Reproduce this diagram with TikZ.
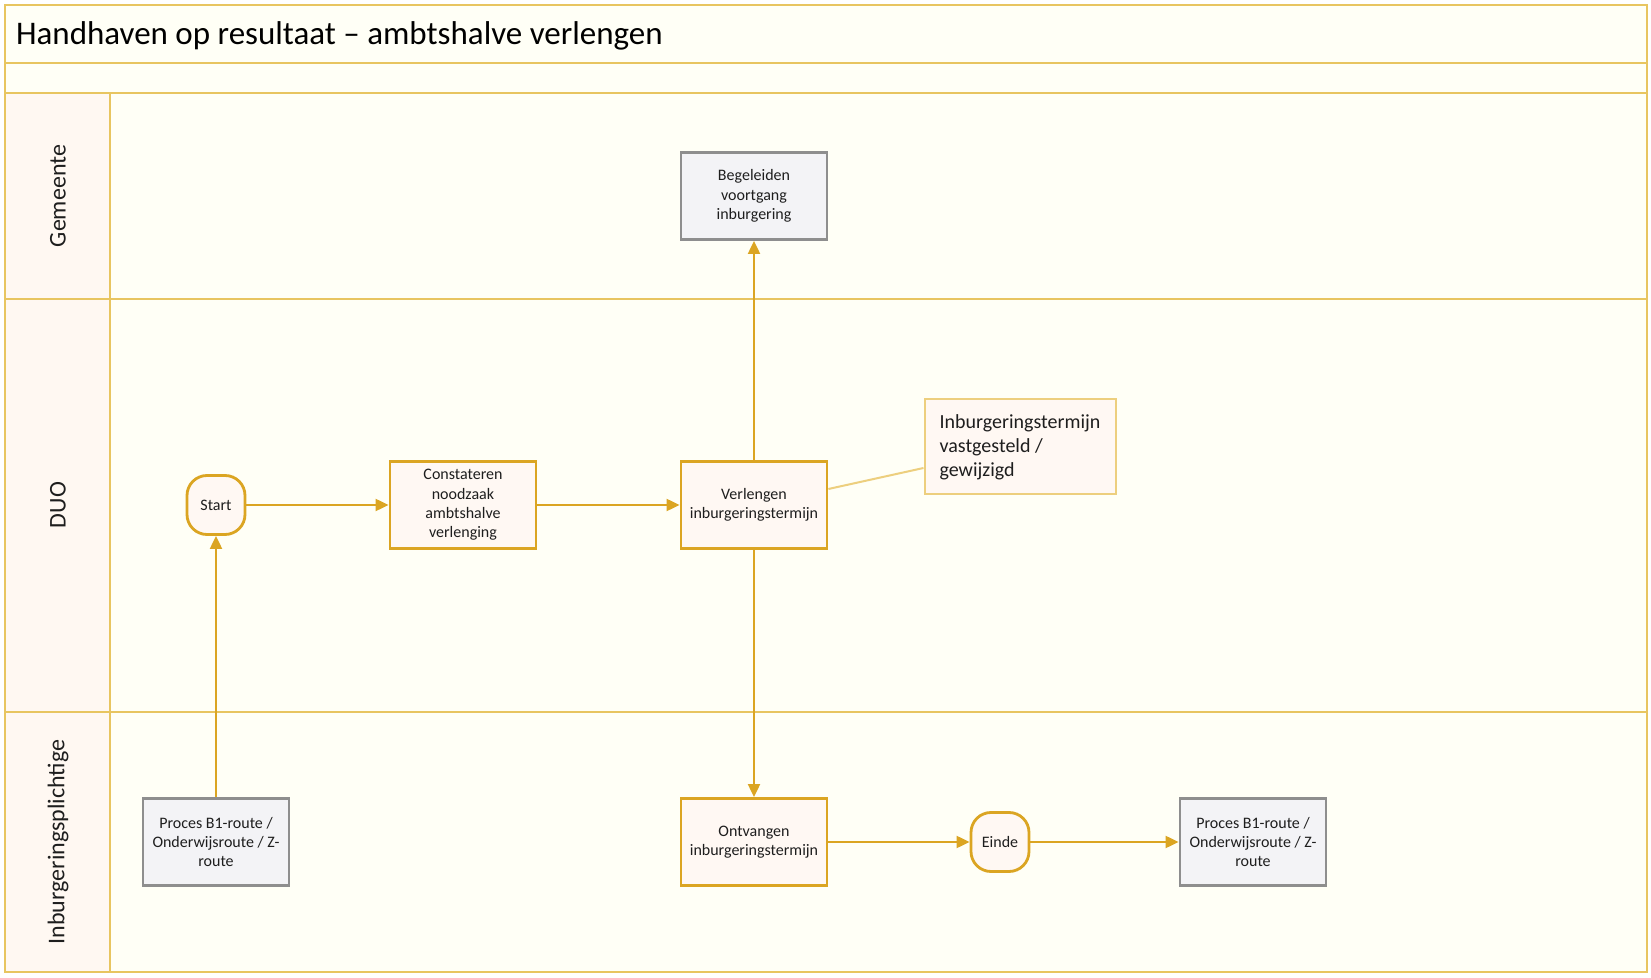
\documentclass[tikz,border=0pt]{standalone}
\usepackage{fontspec}
\setmainfont{Carlito}
\usetikzlibrary{arrows.meta}
\definecolor{lanegold}{HTML}{E8C560}
\definecolor{boxgold}{HTML}{DBA522}
\definecolor{notegold}{HTML}{EDCF7E}
\definecolor{bgcream}{HTML}{FFFFF6}
\definecolor{lanefill}{HTML}{FFF8F2}
\definecolor{boxfill}{HTML}{FFF8F3}
\definecolor{extgrey}{HTML}{8E8E8E}
\definecolor{extfill}{HTML}{F3F3F6}
\definecolor{tekst}{HTML}{1E1E1E}

\begin{document}
\begin{tikzpicture}[x=0.5pt,y=-0.5pt,
  lane/.style={draw=lanegold,line width=1.2pt},
  taak/.style={draw=boxgold,fill=boxfill,line width=1.4pt,minimum width=73pt,minimum height=43.5pt,
    align=center,inner sep=1pt,text=tekst,font=\fontsize{8}{9.7}\selectfont},
  extern/.style={taak,draw=extgrey,fill=extfill},
  grens/.style={taak,rounded corners=10pt,minimum width=29pt,minimum height=29.5pt},
  notitie/.style={draw=notegold,fill=boxfill,line width=1pt,minimum width=95.5pt,minimum height=47.5pt,
    align=left,inner sep=4pt,text=tekst,font=\fontsize{10}{12}\selectfont},
  laan/.style={rotate=90,text=tekst,font=\fontsize{12}{14}\selectfont},
  stroom/.style={draw=boxgold,line width=1pt,-{Triangle[length=6.5pt,width=6pt]}}]
\useasboundingbox (0,0) rectangle (1651,978);
\fill[white] (0,0) rectangle (1651,978);
\fill[bgcream] (5,5) rectangle (1647,972);
\fill[lanefill] (5,93) rectangle (110,972);
% swimlanes
\draw[lane] (5,5) rectangle (1647,972);
\draw[lane] (5,63) -- (1647,63);
\draw[lane] (5,93) -- (1647,93);
\draw[lane] (110,93) -- (110,972);
\draw[lane] (5,299) -- (1647,299);
\draw[lane] (5,712) -- (1647,712);
\node[anchor=west,text=black,font=\fontsize{16.5}{19}\selectfont] (titel) at (9,36) {Handhaven op resultaat -- ambtshalve verlengen};
\node[laan] (gemeente) at (58,196) {Gemeente};
\node[laan] (duo) at (58,505) {DUO};
\node[laan] (plichtige) at (58,842) {Inburgeringsplichtige};
% stappen
\node[extern] (begeleiden) at (754,196) {Begeleiden\\voortgang\\inburgering};
\node[grens] (start) at (216,505) {Start};
\node[taak] (constateren) at (463,505) {Constateren\\noodzaak\\ambtshalve\\verlenging};
\node[taak] (verlengen) at (754,505) {Verlengen\\inburgeringstermijn};
\node[notitie] (termijn) at (1020,447) {Inburgeringstermijn\\vastgesteld /\\gewijzigd};
\node[extern] (procesin) at (216,842) {Proces B1-route /\\Onderwijsroute / Z-\\route};
\node[taak] (ontvangen) at (754,842) {Ontvangen\\inburgeringstermijn};
\node[grens] (einde) at (1000,842) {Einde};
\node[extern] (procesuit) at (1253,842) {Proces B1-route /\\Onderwijsroute / Z-\\route};
% stromen
\draw[stroom] (procesin) -- (start);
\draw[stroom] (start) -- (constateren);
\draw[stroom] (constateren) -- (verlengen);
\draw[stroom] (verlengen) -- (begeleiden);
\draw[stroom] (verlengen) -- (ontvangen);
\draw[stroom] (ontvangen) -- (einde);
\draw[stroom] (einde) -- (procesuit);
\draw[draw=notegold,line width=1pt] ([yshift=8pt]verlengen.east) -- ([yshift=-10.5pt]termijn.west);
\end{tikzpicture}
\end{document}
